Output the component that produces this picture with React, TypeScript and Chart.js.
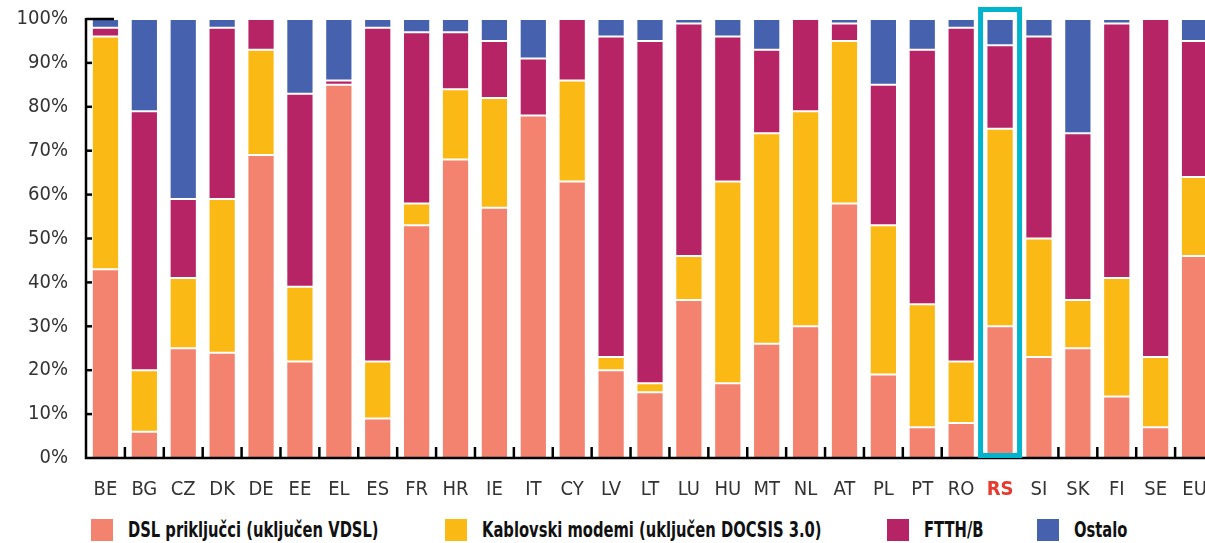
import React, { useEffect, useRef } from "react";
import { Chart, registerables } from "chart.js";

Chart.register(...registerables);

const categories = ["BE","BG","CZ","DK","DE","EE","EL","ES","FR","HR","IE","IT","CY","LV","LT","LU","HU","MT","NL","AT","PL","PT","RO","RS","SI","SK","FI","SE","EU"];
const dslValues = [43,6,25,24,69,22,85,9,53,68,57,78,63,20,15,36,17,26,30,58,19,7,8,30,23,25,14,7,46];
const cableValues = [53,14,16,35,24,17,0,13,5,16,25,0,23,3,2,10,46,48,49,37,34,28,14,45,27,11,27,16,18];
const ftthValues = [2,59,18,39,7,44,1,76,39,13,13,13,14,73,78,53,33,19,21,4,32,58,76,19,46,38,58,77,31];
const otherValues = [2,21,41,2,0,17,14,2,3,3,5,9,0,4,5,1,4,7,0,1,15,7,2,6,4,26,1,0,5];
const yTicks = [0,10,20,30,40,50,60,70,80,90,100];
const seriesNames = ["DSL priključci (uključen VDSL)", "Kablovski modemi (uključen DOCSIS 3.0)", "FTTH/B", "Ostalo"];
const seriesColors = ["#F3826F", "#FBB916", "#B72466", "#4661AE"];
const highlighted = "RS";

const FONT = "'DejaVu Sans Condensed', 'DejaVu Sans', sans-serif";

const decorPlugin = {
  id: "decor",
  afterDatasetsDraw(chart: any) {
    const { ctx, chartArea, scales } = chart;
    const x = scales.x;
    const y = scales.y;
    ctx.save();
    ctx.strokeStyle = "#000";
    ctx.lineWidth = 2.5;
    ctx.lineCap = "butt";
    ctx.beginPath();
    ctx.moveTo(chartArea.left, chartArea.top - 1);
    ctx.lineTo(chartArea.left, chartArea.bottom);
    ctx.lineTo(chartArea.right, chartArea.bottom);
    ctx.stroke();
    yTicks.forEach((v) => {
      if (v === 0) return;
      const py = y.getPixelForValue(v);
      const len = v === 100 ? 28 : 6;
      ctx.beginPath();
      ctx.moveTo(chartArea.left, py);
      ctx.lineTo(chartArea.left + len, py);
      ctx.stroke();
    });
    for (let i = 1; i < categories.length; i++) {
      const px = (x.getPixelForValue(i - 1) + x.getPixelForValue(i)) / 2;
      ctx.beginPath();
      ctx.moveTo(px, chartArea.bottom);
      ctx.lineTo(px, chartArea.bottom - 11);
      ctx.stroke();
    }
    const idx = categories.indexOf(highlighted);
    if (idx >= 0) {
      const c = x.getPixelForValue(idx);
      ctx.strokeStyle = "#00B4CE";
      ctx.lineWidth = 5;
      ctx.strokeRect(c - 19.5, chartArea.top - 9.5, 39, chartArea.bottom - 2.5 - (chartArea.top - 9.5));
    }
    ctx.restore();
  },
};

export default function App() {
  const ref = useRef<HTMLCanvasElement | null>(null);

  useEffect(() => {
    if (!ref.current) return;
    const datasets = [dslValues, cableValues, ftthValues, otherValues].map((d, i) => ({
      label: seriesNames[i],
      data: d,
      backgroundColor: seriesColors[i],
      borderColor: "#FFFFFF",
      borderWidth: 1,
      borderSkipped: false as any,
      categoryPercentage: 1,
      barPercentage: 0.7,
    }));
    const chart = new Chart(ref.current, {
      type: "bar",
      data: { labels: categories, datasets },
      options: {
        animation: false,
        responsive: false,
        layout: { padding: { top: 19, bottom: 10, left: 0, right: 0 } },
        plugins: { legend: { display: false }, tooltip: { enabled: false } },
        scales: {
          x: {
            stacked: true,
            grid: { display: false, drawTicks: false },
            border: { display: false },
            afterFit: (s: any) => { s.height = 42; s.paddingLeft = 0; s.paddingRight = 0; },
            ticks: {
              autoSkip: false,
              maxRotation: 0,
              padding: 20,
              color: (c: any) => (categories[c.index] === highlighted ? "#E63B2E" : "#333333"),
              font: (c: any) => ({ family: FONT, size: 20, weight: categories[c.index] === highlighted ? "bold" : "normal" }),
            },
          },
          y: {
            stacked: true,
            min: 0,
            max: 100,
            grid: { display: false, drawTicks: false },
            border: { display: false },
            afterFit: (s: any) => { s.width = 86; s.paddingTop = 0; s.paddingBottom = 0; },
            afterBuildTicks: (s: any) => { s.ticks = yTicks.map((v) => ({ value: v })); },
            ticks: {
              padding: 18,
              color: "#333333",
              font: { family: FONT, size: 20 },
              callback: (v: any) => `${v}%`,
            },
          },
        },
      },
      plugins: [decorPlugin],
    });
    return () => chart.destroy();
  }, []);

  const legendLeft = [91, 445, 887, 1037];

  return (
    <div style={{ position: "fixed", left: 0, top: 0, width: 1205, height: 543, overflow: "hidden", background: "#fff" }}>
      <canvas ref={ref} width={1214} height={510} style={{ position: "absolute", left: 0, top: 0 }} />
      {seriesNames.map((name, i) => (
        <div key={name} style={{ position: "absolute", left: legendLeft[i], top: 519, display: "flex", alignItems: "center", height: 22, whiteSpace: "nowrap" }}>
          <span style={{ display: "inline-block", width: 22, height: 22, background: seriesColors[i], flex: "none" }} />
          <span style={{ marginLeft: 15, fontFamily: FONT, fontWeight: "bold", fontSize: 21, color: "#111", display: "inline-block", transform: "scaleX(0.78)", transformOrigin: "left center" }}>{name}</span>
        </div>
      ))}
    </div>
  );
}
